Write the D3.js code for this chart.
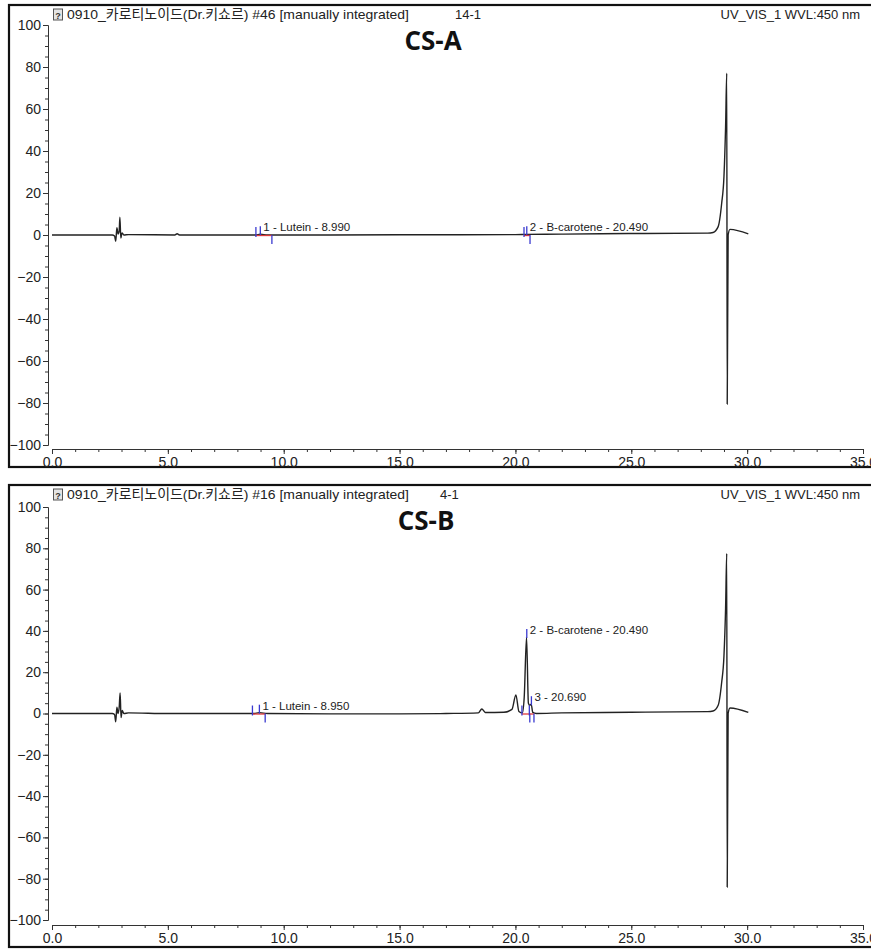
<!DOCTYPE html>
<html><head><meta charset="utf-8">
<script src="https://cdn.jsdelivr.net/npm/d3@7"></script>
<style>body{margin:0;background:#fff}text{font-family:'Liberation Sans',Arial,'Noto Sans CJK KR',sans-serif}</style>
</head><body>
<svg id="c" width="871" height="949"></svg>
<script>
// ---- data ----
const xMajorTicks = [0, 5, 10, 15, 20, 25, 30, 35];
const xMinorTicks = d3.range(0, 36, 1);
const yMajorTicks = [-100, -80, -60, -40, -20, 0, 20, 40, 60, 80, 100];
const yMinorTicks = d3.range(-100, 101, 5);

const headerA = "0910_카로티노이드(Dr.키쇼르) #46 [manually integrated]";
const injA = "14-1";
const headerB = "0910_카로티노이드(Dr.키쇼르) #16 [manually integrated]";
const injB = "4-1";
const channel = "UV_VIS_1 WVL:450 nm";
const titleA = "CS-A";
const titleB = "CS-B";

const timeA   = [0, 2.6, 2.7, 2.75, 2.8, 2.85, 2.9, 2.93, 2.97, 3.02, 3.1, 3.3, 5.3, 5.4, 5.5, 8.8, 8.99, 9.3, 12, 15, 20, 20.49, 22, 25, 28.3, 28.53, 28.75, 28.9, 29.0, 29.07, 29.12, 29.14, 29.18, 29.26, 30.05];
const signalA = [0, 0, -0.5, -3, 3.5, 0.5, 2, 8.5, -1.5, 1, 0, 0.2, 0, 0.6, 0, 0, 0.4, 0, 0, 0.1, 0.2, 0.3, 0.4, 0.7, 0.9, 1.2, 4, 15, 28, 51.5, 77, -80.5, 0, 2.7, 0.5];

const timeB   = [0, 2.6, 2.7, 2.75, 2.8, 2.85, 2.9, 2.94, 2.98, 3.03, 3.1, 3.3, 5, 8.7, 8.95, 9.3, 12, 15, 17, 18.4, 18.55, 18.7, 19.5, 19.85, 20.02, 20.15, 20.3, 20.38, 20.48, 20.56, 20.62, 20.68, 20.75, 20.9, 22, 25, 28.3, 28.53, 28.75, 28.9, 29.0, 29.07, 29.12, 29.14, 29.18, 29.26, 30.05];
const signalB = [0, 0, -0.5, -4, 3, 0, 3, 10, -2, 1.5, 0, 0.3, 0, 0, 0.4, 0, -0.2, -0.2, 0, 0.3, 2.2, 0.5, 0.6, 2, 9, 1, 0.3, 8, 37, 5, 4, 4.5, 0.5, 0, 0.3, 0.6, 0.9, 1.2, 4, 15, 28, 51, 77.5, -84, 0, 2.7, 0.5];

const peakLabelsA = ["1 - Lutein - 8.990", "2 - B-carotene - 20.490"];
const peakRetA    = [8.99, 20.49];
const peakStartA  = [8.80, 20.37];
const peakEndA    = [9.49, 20.63];
const peakHeightA = [0.4, 0.3];

const peakLabelsB = ["1 - Lutein - 8.950", "2 - B-carotene - 20.490", "3 - 20.690"];
const peakRetB    = [8.95, 20.49, 20.69];
const peakStartB  = [8.65, 20.28, 20.60];
const peakEndB    = [9.20, 20.62, 20.80];
const peakHeightB = [0.4, 37, 4.5];

// ---- drawing ----
const svg = d3.select("#c");
const x = d3.scaleLinear().domain([0, 35]).range([52, 863]);

function panel(cfg) {
  const g = svg.append("g");
  const y = d3.scaleLinear().domain([-100, 100]).range(cfg.yRange);
  // frame
  g.append("rect").attr("x", 9).attr("y", cfg.top).attr("width", 900).attr("height", cfg.height)
    .attr("fill", "none").attr("stroke", "#111").attr("stroke-width", 2.2);
  // header
  const hy = cfg.top + 14;
  g.append("rect").attr("x", 53.5).attr("y", hy - 10).attr("width", 9).attr("height", 11)
    .attr("fill", "#e4e4e4").attr("stroke", "#555").attr("stroke-width", 1);
  g.append("text").attr("x", 58).attr("y", hy - 0.5).attr("text-anchor", "middle")
    .attr("font-size", 9).attr("font-weight", "bold").attr("fill", "#333").text("?");
  g.append("text").attr("x", 67).attr("y", hy).attr("font-size", 13.5).attr("fill", "#222")
    .attr("textLength", 342).attr("lengthAdjust", "spacingAndGlyphs").text(cfg.header);
  g.append("text").attr("x", cfg.injX).attr("y", hy).attr("font-size", 13).attr("fill", "#222").text(cfg.inj);
  g.append("text").attr("x", 860).attr("y", hy).attr("text-anchor", "end").attr("font-size", 13).attr("fill", "#222").text(channel);
  // title
  g.append("text").attr("x", cfg.titleX).attr("y", cfg.top + 45).attr("text-anchor", "middle")
    .style("font-family", "'Open Sans',sans-serif").attr("font-weight", "bold").attr("font-size", 26).attr("fill", "#111").text(cfg.title);

  // y axis
  const ya = g.append("g").attr("transform", "translate(48,0)");
  ya.call(d3.axisLeft(y).tickValues(yMinorTicks).tickSize(3).tickSizeOuter(0).tickFormat(""));
  ya.append("g").call(d3.axisLeft(y).tickValues(yMajorTicks).tickSize(5).tickSizeOuter(0).tickPadding(2).tickFormat(d3.format("d")));
  // x axis
  const xa = g.append("g").attr("transform", `translate(0,${cfg.xAxisY})`);
  xa.call(d3.axisBottom(x).tickValues(xMinorTicks).tickSize(3).tickSizeOuter(0).tickFormat(""));
  xa.append("g").call(d3.axisBottom(x).tickValues(xMajorTicks).tickSize(5).tickSizeOuter(0).tickPadding(3).tickFormat(d3.format(".1f")));
  g.selectAll(".tick text").attr("font-size", 14).attr("fill", "#222").style("font-family", "'Liberation Sans',Arial,sans-serif");
  g.selectAll(".domain, .tick line").attr("stroke", "#333");

  // trace
  const line = d3.line().x(d => x(d[0])).y(d => y(d[1])).curve(d3.curveMonotoneX);
  g.append("path").datum(d3.zip(cfg.time, cfg.signal)).attr("d", line)
    .attr("fill", "none").attr("stroke", "#222").attr("stroke-width", 1.4);

  // peak annotations
  cfg.labels.forEach((lab, i) => {
    const xs = x(cfg.start[i]), xr = x(cfg.ret[i]), xe = x(cfg.end[i]);
    const y0 = y(0), yp = y(cfg.peakH[i]);
    g.append("line").attr("x1", xs).attr("x2", xe).attr("y1", y0 + 0.5).attr("y2", y0 + 0.5)
      .attr("stroke", "#e03a3a").attr("stroke-width", 1.3);
    g.append("line").attr("x1", xs).attr("x2", xs).attr("y1", y0 - 8).attr("y2", y0 + 2)
      .attr("stroke", "#3a3ad0").attr("stroke-width", 1.3);
    g.append("line").attr("x1", xr).attr("x2", xr).attr("y1", yp - 8).attr("y2", yp + 1)
      .attr("stroke", "#3a3ad0").attr("stroke-width", 1.3);
    g.append("line").attr("x1", xe).attr("x2", xe).attr("y1", y0).attr("y2", y0 + 9)
      .attr("stroke", "#3a3ad0").attr("stroke-width", 1.3);
    g.append("text").attr("x", xr + 3).attr("y", yp - 3).attr("font-size", 11.5).attr("fill", "#222").text(lab);
  });
}

panel({top: 5, height: 462, yRange: [445, 25], xAxisY: 449, header: headerA, inj: injA, injX: 455,
  title: titleA, titleX: 433, time: timeA, signal: signalA,
  labels: peakLabelsA, ret: peakRetA, start: peakStartA, end: peakEndA, peakH: peakHeightA});
panel({top: 485, height: 462, yRange: [920, 507], xAxisY: 925, header: headerB, inj: injB, injX: 440,
  title: titleB, titleX: 426, time: timeB, signal: signalB,
  labels: peakLabelsB, ret: peakRetB, start: peakStartB, end: peakEndB, peakH: peakHeightB});
</script>
</body></html>
